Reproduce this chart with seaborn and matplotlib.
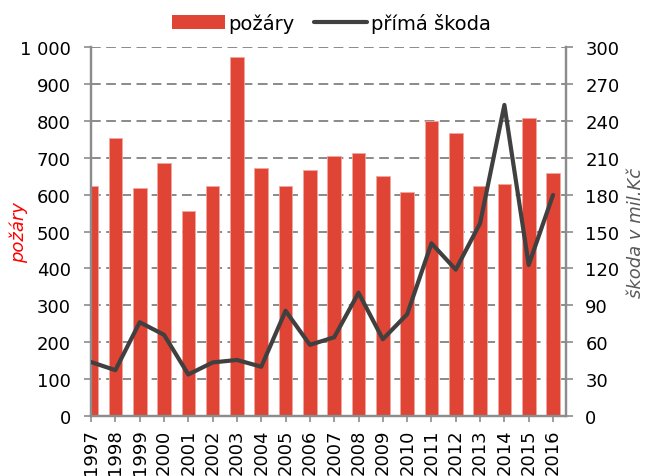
import numpy as np
import pandas as pd
import matplotlib
matplotlib.use("Agg")
import matplotlib.pyplot as plt
import seaborn as sns
from matplotlib.patches import Patch
from matplotlib.lines import Line2D

# Data: fires per year and direct damage (mil. Kč)
years = [1997, 1998, 1999, 2000, 2001, 2002, 2003, 2004, 2005, 2006,
         2007, 2008, 2009, 2010, 2011, 2012, 2013, 2014, 2015, 2016]
fires = [623, 755, 618, 687, 555, 623, 973, 671, 623, 666,
         704, 713, 650, 607, 799, 766, 623, 629, 809, 660]
damage = [43.8, 37.2, 76.2, 66.0, 33.7, 43.5, 45.5, 40.0, 85.5, 57.8,
          64.0, 100.2, 62.4, 82.7, 140.4, 119.0, 156.7, 253.0, 122.8, 179.7]
left_ticks = [0, 100, 200, 300, 400, 500, 600, 700, 800, 900, 1000]
left_ticklabels = ["0", "100", "200", "300", "400", "500", "600", "700", "800", "900", "1 000"]
right_ticks = [0, 30, 60, 90, 120, 150, 180, 210, 240, 270, 300]

BAR = "#E04434"
LINE = "#404040"
SPINE = "#8C8C8C"

sns.set_theme(style="white")
plt.rcParams["font.family"] = ["DejaVu Sans"]
plt.rcParams["text.color"] = "black"
plt.rcParams["xtick.color"] = "black"
plt.rcParams["ytick.color"] = "black"

df = pd.DataFrame({"year": years, "fires": fires, "damage": damage})
df["pos"] = np.arange(len(years))

fig = plt.figure(figsize=(6.46, 4.77), dpi=100)
ax = fig.add_axes([0.141, 0.126, 0.735, 0.773])

sns.barplot(data=df, x="year", y="fires", color=BAR, saturation=1,
            width=0.56, ax=ax, zorder=2, edgecolor="#F2A79E", linewidth=0.6)
ax.set_xlim(0, 19.53)
ax.set_ylim(0, 1000)
ax.set_yticks(left_ticks)
ax.set_yticklabels(left_ticklabels)
for t in left_ticks[1:]:
    ax.axhline(t, color="#8A8A8A", lw=1.4, ls=(0, (5, 2.8)), zorder=1)

ax.set_xlabel("")
ax.set_ylabel("požáry", color="#FF0000", fontstyle="italic", fontsize=13)
ax.yaxis.set_label_coords(-0.133, 0.5)
ax.tick_params(axis="x", rotation=90, labelsize=13, length=4, width=1.2,
               color=SPINE, labelcolor="black", bottom=True, pad=5)
ax.tick_params(axis="y", labelsize=13, length=5, width=1.2, color=SPINE,
               labelcolor="black", left=True, pad=9.5)

ax2 = ax.twinx()
sns.lineplot(data=df, x="pos", y="damage", color=LINE, lw=3, ax=ax2, zorder=3)
ax2.set_ylim(0, 300)
ax2.set_yticks(right_ticks)
ax2.set_xlim(0, 19.53)
ax2.set_ylabel("škoda v mil.Kč", color="#595959", fontstyle="italic", fontsize=13,
               rotation=90)
ax2.yaxis.set_label_coords(1.128, 0.5)
ax2.tick_params(axis="y", labelsize=13, length=5, width=1.2, color=SPINE,
                labelcolor="black", right=True, pad=9)
ax2.set_xlabel("")
ax2.grid(False)
ax.grid(False)

for a in (ax, ax2):
    a.spines["top"].set_visible(False)
    for s in ("left", "right", "bottom"):
        a.spines[s].set_color(SPINE)
        a.spines[s].set_linewidth(1.6)

handles = [Patch(facecolor=BAR, edgecolor="none"),
           Line2D([0], [0], color=LINE, lw=3)]
fig.legend(handles, ["požáry", "přímá škoda"], loc="center", bbox_to_anchor=(0.513, 0.95),
           ncol=2, frameon=False, fontsize=14, handlelength=2.7, handleheight=0.75,
           handletextpad=0.2, columnspacing=1.0)

fig.savefig("out.png", dpi=100)
